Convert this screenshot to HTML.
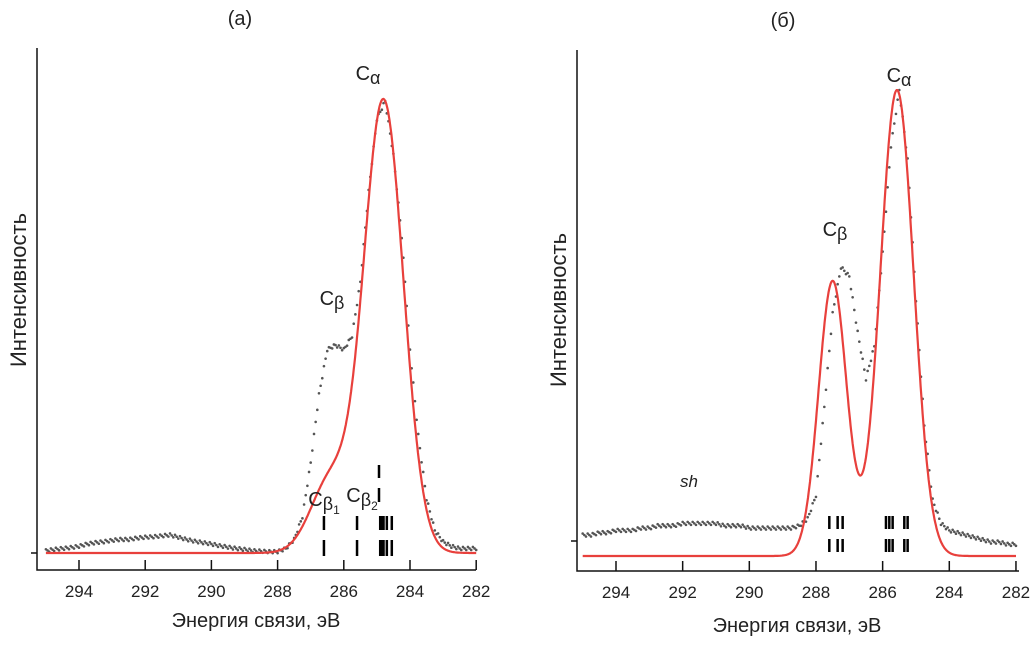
<!DOCTYPE html>
<html><head><meta charset="utf-8"><style>
body{margin:0;background:#fff}
svg text{font-family:"Liberation Sans",sans-serif;fill:#222}
</style></head><body>
<svg id="c" width="1034" height="650"></svg>
<script>
// Panel A data
const energies = [];
for (let i = 0; i <= 52; i++) energies.push(295 - i * 0.25);
const dotsA = [0.5,0.8,1,1.2,1.5,2,2.3,2.5,2.8,3,3,3.3,3.5,3.6,3.8,4,3.5,3,2.6,2.3,2,1.6,1.3,1,0.8,0.5,0.4,0.3,0.3,1,3,8,20,35,45,46,45,48,60,80,96,100,88,70,45,26,12,5,2.5,1.5,1,1,1];
const peaksA_pos = [284.8, 286.4];
const peaksA_amp = [100, 16];
const peaksA_sig = [0.6, 0.6];
const compA = [286.6, 285.6, 284.9, 284.85, 284.8, 284.7, 284.55];
// Panel B data
const dotsB = [4.5,4.5,5,5,5.5,5.5,5.5,6,6,6.5,6.5,6.5,7,7,7,7,7,6.5,6.5,6.5,6,6,6,6,6,6,6.5,8,13,32,52,62,60,48,38,45,65,88,100,85,55,28,12,7,5.5,5,4.5,4,3.5,3,3,2.5,2.5];
const peaksB_pos = [285.57, 287.5];
const peaksB_amp = [100, 59];
const peaksB_sig = [0.5, 0.42];
const compB = [287.6, 287.35, 287.2, 285.9, 285.8, 285.7, 285.35, 285.25];
const ticks = [294, 292, 290, 288, 286, 284, 282];

const svg = document.getElementById('c');
const NS = 'http://www.w3.org/2000/svg';
function mk(tag, attrs, parent) {
  const e = document.createElementNS(NS, tag);
  for (const k in attrs) e.setAttribute(k, attrs[k]);
  (parent || svg).appendChild(e);
  return e;
}
function txt(x, y, s, size, name, extra) {
  const t = mk('text', Object.assign({x: x, y: y, 'font-size': size, 'text-anchor': 'middle'}, extra || {}));
  t.textContent = s;
  
  
  return t;
}
function panel(cfg) {
  const g = mk('g', {});
  
  
  const X = e => cfg.x294 + (294 - e) * cfg.pxPerEv;
  const Y = v => cfg.y0 - v * cfg.pxPerUnit;
  const ax = mk('path', {d: `M${cfg.axL},${cfg.axTop} V${cfg.axB} H${cfg.axR}`, stroke: '#111', 'stroke-width': 1.5, fill: 'none'}, g);
  
  
  const yt = mk('line', {x1: cfg.axL, x2: cfg.axL - 6, y1: cfg.yTick, y2: cfg.yTick, stroke: '#111', 'stroke-width': 1.5}, g);
  
  
  ticks.forEach(t => {
    const l = mk('line', {x1: X(t), x2: X(t), y1: cfg.axB, y2: cfg.axB - 10, stroke: '#111', 'stroke-width': 1.5}, g);
    
    
    txt(X(t), cfg.axB + 27, String(t), 17, 'x-tick-label');
  });
  cfg.dots.forEach((v, i) => {
    for (let k = 0; k < 5; k++) {
      const e = energies[i] - k * 0.05;
      if (e < 282 || i + 1 >= cfg.dots.length && k > 0) continue;
      const vn = i + 1 < cfg.dots.length ? v + (cfg.dots[i + 1] - v) * k / 5 : v;
      const d = mk('circle', {cx: X(e), cy: Y(vn) + ((i * 5 + k) % 3 - 1) * 1.5, r: 1.3, fill: '#555'}, g);
      
      
    }
  });
  let p = '';
  for (let e = 295; e >= 282; e -= 0.02) {
    let v = 0;
    for (let j = 0; j < cfg.pos.length; j++) v += cfg.amp[j] * Math.exp(-Math.pow(e - cfg.pos[j], 2) / (2 * cfg.sig[j] * cfg.sig[j]));
    p += (p ? 'L' : 'M') + X(e).toFixed(1) + ',' + Y(v).toFixed(1);
  }
  const fc = mk('path', {d: p, stroke: '#e8403c', 'stroke-width': 2.2, fill: 'none'}, g);
  
  
  cfg.comp.forEach(e => {
    cfg.compRows.forEach(r => {
      const l = mk('line', {x1: X(e), x2: X(e), y1: r[0], y2: r[1], stroke: '#000', 'stroke-width': 2.5}, g);
      
      
    });
  });
}
panel({name: 'panel-a', x294: 79, pxPerEv: 33.1, y0: 553, pxPerUnit: 4.52, axL: 37, axTop: 48, axB: 570, axR: 476, yTick: 553,
  dots: dotsA, pos: peaksA_pos, amp: peaksA_amp, sig: peaksA_sig, comp: compA, compRows: [[516, 530], [540, 556]]});
panel({name: 'panel-b', x294: 616, pxPerEv: 33.33, y0: 556, pxPerUnit: 4.66, axL: 577, axTop: 50, axB: 571, axR: 1019, yTick: 541,
  dots: dotsB, pos: peaksB_pos, amp: peaksB_amp, sig: peaksB_sig, comp: compB, compRows: [[516, 529], [539, 552]]});
[[465, 478], [488, 502]].forEach(r => {
  const l = mk('line', {x1: 379, x2: 379, y1: r[0], y2: r[1], stroke: '#000', 'stroke-width': 2.5});
  
  
});
txt(240, 25, '(a)', 20, 'panel-a-title');
txt(783, 27, '(б)', 20, 'panel-b-title');
txt(256, 627, 'Энергия связи, эВ', 20, 'x-axis-title-a');
txt(797, 632, 'Энергия связи, эВ', 20, 'x-axis-title-b');
txt(0, 0, 'Интенсивность', 22, 'y-axis-title-a', {transform: 'translate(26,290) rotate(-90)'});
txt(0, 0, 'Интенсивность', 22, 'y-axis-title-b', {transform: 'translate(566,310) rotate(-90)'});
function sub(x, y, main, s, subscript, name) {
  const t = mk('text', {x: x, y: y, 'font-size': 20, 'text-anchor': 'middle'});
  
  
  t.appendChild(document.createTextNode(main));
  const a = mk('tspan', {dy: 4, 'font-size': 18}, t); a.textContent = s;
  if (subscript) { const b = mk('tspan', {dy: 4, 'font-size': 12}, t); b.textContent = subscript; }
}
sub(368, 80, 'C', 'α', '', 'label-c-alpha-a');
sub(332, 305, 'C', 'β', '', 'label-c-beta-a');
sub(324, 506, 'C', 'β', '1', 'label-c-beta1');
sub(362, 502, 'C', 'β', '2', 'label-c-beta2');
sub(899, 82, 'C', 'α', '', 'label-c-alpha-b');
sub(835, 236, 'C', 'β', '', 'label-c-beta-b');
txt(689, 487, 'sh', 17, 'label-sh', {'font-style': 'italic'});
</script>
</body></html>
